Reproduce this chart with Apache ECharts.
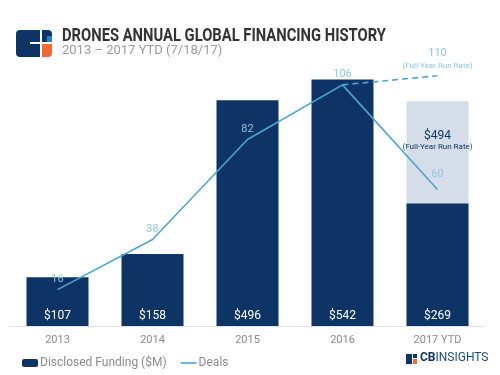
<!DOCTYPE html>
<html>
<head>
<meta charset="utf-8">
<script src="https://cdn.jsdelivr.net/npm/echarts@6/dist/echarts.min.js"></script>
<style>
  html, body { margin: 0; padding: 0; background: #fff; }
  #chart { width: 500px; height: 375px; }
</style>
</head>
<body>
<div id="chart"></div>
<script>
var years = ['2013', '2014', '2015', '2016', '2017 YTD']
var funding = [107, 158, 496, 542, 269]
var fundingRunRate = [null, null, null, null, 494]
var deals = [16, 38, 82, 106, 60]
var dealsRunRate = [null, null, null, 106, 110]

var navy = '#0d3465'
var lineBlue = '#4ea5cf'
var labelBlue = '#8ec6df'

var chart = echarts.init(document.getElementById('chart'))

chart.setOption({
  animation: false,
  textStyle: { fontFamily: 'Roboto, sans-serif' },
  grid: { left: 10, right: 15, top: 53, bottom: 49 },
  legend: {
    left: 17,
    top: 352,
    itemWidth: 16,
    itemHeight: 8,
    itemGap: 14,
    textStyle: { color: '#8a8a8a', fontSize: 12, padding: [0, 0, 0, -3] },
    data: [
      'Disclosed Funding ($M)',
      { name: 'Deals', icon: 'path://M0,0h16v1.6h-16z', itemStyle: { color: lineBlue } }
    ]
  },
  graphic: [
    // header logo
    { type: 'rect', shape: { x: 16, y: 30, width: 24, height: 27, r: [4, 0, 0, 4] }, style: { fill: navy } },
    { type: 'rect', shape: { x: 42, y: 30, width: 10, height: 12, r: [0, 4, 0, 0] }, style: { fill: navy } },
    { type: 'rect', shape: { x: 47, y: 36, width: 5, height: 6 }, style: { fill: '#2f7fbf' } },
    { type: 'rect', shape: { x: 42, y: 44, width: 10, height: 13, r: [0, 0, 4, 0] }, style: { fill: '#f06a35' } },
    { type: 'rect', shape: { x: 30, y: 42, width: 10, height: 2 }, style: { fill: '#fff' } },
    {
      type: 'text', x: 62, y: 27, scaleX: 0.82,
      style: {
        text: 'DRONES ANNUAL GLOBAL FINANCING HISTORY',
        font: 'bold 18px Roboto, sans-serif',
        fill: '#333'
      }
    },
    {
      type: 'text', left: 62, top: 44,
      style: {
        text: '2013 \u2013 2017 YTD (7/18/17)',
        font: '13px Roboto, sans-serif',
        fill: '#9a9a9a'
      }
    },
    // CB Insights footer logo
    { type: 'rect', shape: { x: 406, y: 354, width: 6, height: 10 }, style: { fill: navy } },
    { type: 'rect', shape: { x: 413, y: 354, width: 4, height: 4 }, style: { fill: navy } },
    { type: 'rect', shape: { x: 413, y: 359, width: 4, height: 5 }, style: { fill: '#f06a35' } },
    {
      type: 'text', left: 420, top: 352,
      style: {
        text: '{a|CB}{b|INSIGHTS}',
        rich: {
          a: { fontSize: 12, fontWeight: 'bold', fill: navy, fontFamily: 'Roboto' },
          b: { fontSize: 12, fill: '#1d4a80', fontFamily: 'Roboto' }
        }
      }
    }
  ],
  xAxis: {
    type: 'category',
    data: years,
    axisTick: { show: false },
    axisLine: { lineStyle: { color: '#e3e3e3' } },
    axisLabel: { color: '#8a8a8a', fontSize: 11, margin: 9 }
  },
  yAxis: [
    { type: 'value', min: 0, max: 600, show: false },
    { type: 'value', min: 0, max: 120, show: false }
  ],
  series: [
    {
      name: 'Disclosed Funding ($M)',
      type: 'bar',
      stack: 'funding',
      barWidth: 62,
      itemStyle: { color: navy },
      label: {
        show: true,
        position: 'insideBottom',
        distance: 4,
        color: '#fff',
        fontSize: 12,
        formatter: function (p) { return '$' + p.value }
      },
      data: funding
    },
    {
      name: 'Run Rate',
      type: 'bar',
      barGap: '-100%',
      barWidth: 62,
      z: 1,
      itemStyle: { color: '#d5dee8' },
      label: {
        show: true,
        position: 'insideTop',
        distance: 28,
        formatter: '{a|${c}}\n{b|(Full-Year Run Rate)}',
        rich: {
          a: { fontSize: 12, color: navy, lineHeight: 13 },
          b: { fontSize: 8, color: navy, lineHeight: 10 }
        }
      },
      data: fundingRunRate
    },
    {
      name: 'Deals',
      type: 'line',
      yAxisIndex: 1,
      symbol: 'circle',
      symbolSize: 0.01,
      z: 5,
      lineStyle: { color: lineBlue, width: 1.6 },
      itemStyle: { color: lineBlue },
      label: { show: true, position: 'top', distance: 5, color: labelBlue, fontSize: 11 },
      data: deals.map(function (v, i) {
        return i === 4 ? { value: v, label: { distance: 10 } } : v
      })
    },
    {
      name: 'Deals Run Rate',
      type: 'line',
      yAxisIndex: 1,
      symbol: 'circle',
      symbolSize: 0.01,
      z: 5,
      itemStyle: { color: lineBlue },
      lineStyle: { color: lineBlue, width: 1.6, type: [6, 4] },
      label: {
        show: true,
        position: 'top',
        distance: 5,
        formatter: function (p) {
          return p.dataIndex === 4 ? '{a|' + p.value + '}\n{b|(Full-Year Run Rate)}' : ''
        },
        rich: {
          a: { fontSize: 11, color: labelBlue, lineHeight: 14 },
          b: { fontSize: 8, color: labelBlue, lineHeight: 10 }
        }
      },
      data: dealsRunRate
    }
  ]
})
</script>
</body>
</html>
